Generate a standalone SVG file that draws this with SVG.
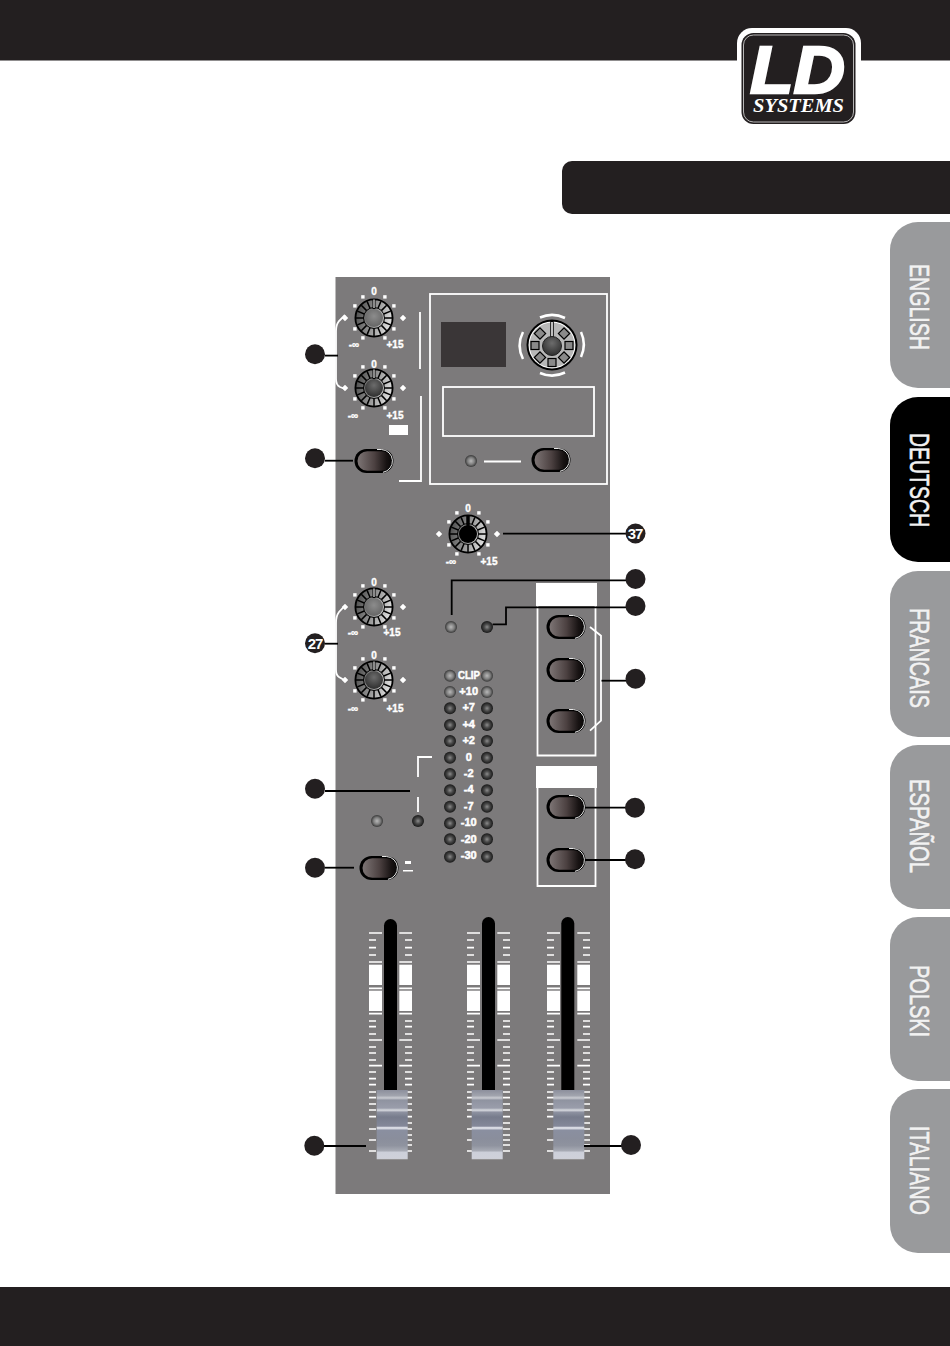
<svg xmlns="http://www.w3.org/2000/svg" xmlns:xlink="http://www.w3.org/1999/xlink" width="950" height="1346" viewBox="0 0 950 1346">
<style>
.tab{font-family:"Liberation Sans Narrow","Liberation Sans",sans-serif;font-size:27px;fill:#f2f2f2;stroke:#f2f2f2;stroke-width:.6}
.k{font-family:"Liberation Sans",sans-serif;font-weight:bold;font-size:10px;fill:#fff;stroke:#fff;stroke-width:.35;text-anchor:middle}
.m{font-family:"Liberation Sans",sans-serif;font-weight:bold;font-size:11px;fill:#fff;stroke:#fff;stroke-width:.5;text-anchor:middle}
.b{font-family:"Liberation Sans",sans-serif;font-weight:bold;font-size:15px;fill:#fff;text-anchor:middle;letter-spacing:-1px}
.wl{fill:none;stroke:#fff;stroke-width:1.8}
.cn{fill:none;stroke:#000;stroke-width:1.8}
.dot{fill:#231f20}
.tick{fill:none;stroke:#fff;stroke-width:1.7}
</style>
<defs>
<linearGradient id="face" x1="0" y1="0" x2="1" y2="0.3"><stop offset="0" stop-color="#3e3e3e"/><stop offset=".55" stop-color="#8f8f8f"/><stop offset="1" stop-color="#d8d8d8"/></linearGradient>
<radialGradient id="hubL" cx=".5" cy=".4" r=".7"><stop offset="0" stop-color="#8c8c8c"/><stop offset="1" stop-color="#5f5f5f"/></radialGradient>
<radialGradient id="hubD" cx=".5" cy=".35" r=".7"><stop offset="0" stop-color="#6c6c6c"/><stop offset="1" stop-color="#2a2a2a"/></radialGradient>
<linearGradient id="btn" x1="0" y1="0" x2="1" y2="0"><stop offset="0" stop-color="#7d7575"/><stop offset=".5" stop-color="#4c4141"/><stop offset=".85" stop-color="#181313"/><stop offset="1" stop-color="#0b0909"/></linearGradient>
<radialGradient id="ledL" cx=".5" cy=".5" r=".52"><stop offset="0" stop-color="#b8b8b8"/><stop offset=".55" stop-color="#7e7e7e"/><stop offset=".85" stop-color="#4a4a4a"/><stop offset="1" stop-color="#333"/></radialGradient>
<radialGradient id="ledD" cx=".5" cy=".5" r=".52"><stop offset="0" stop-color="#8b8b8b"/><stop offset=".45" stop-color="#4a4a4a"/><stop offset="1" stop-color="#141414"/></radialGradient>
<linearGradient id="cap" x1="0" y1="0" x2="0" y2="1">
<stop offset="0" stop-color="#8c8f9c"/><stop offset=".08" stop-color="#a0a3ad"/><stop offset=".115" stop-color="#c9cbd1"/><stop offset=".145" stop-color="#8f93a0"/><stop offset=".26" stop-color="#9a9dab"/><stop offset=".29" stop-color="#d8dbe0"/><stop offset=".32" stop-color="#8d91a0"/><stop offset=".39" stop-color="#777c8c"/><stop offset=".52" stop-color="#848899"/><stop offset=".545" stop-color="#eef0f6"/><stop offset=".58" stop-color="#8a8fa0"/><stop offset=".7" stop-color="#8a8e9c"/><stop offset=".8" stop-color="#8f939f"/><stop offset=".87" stop-color="#a6a9b3"/><stop offset=".9" stop-color="#cdd0da"/><stop offset=".985" stop-color="#cfd1da"/><stop offset="1" stop-color="#aaa"/>
</linearGradient>
<g id="knob">
<circle r="18.6" fill="url(#face)" stroke="#000" stroke-width="1.8"/>
<g stroke="#000" stroke-width="1.5">
<path d="M0-10.500V-18M0 10.500V18M-10.500 0H-18M10.500 0H18M7.400-7.400L12.700-12.700M-7.400-7.400L-12.700-12.700M7.400 7.400L12.700 12.700M-7.400 7.400L-12.700 12.700M4-9.700L6.900-16.600M-4-9.700L-6.900-16.600M4 9.700L6.900 16.600M-4 9.700L-6.900 16.600M9.700-4L16.600-6.900M-9.700-4L-16.600-6.900M9.700 4L16.600 6.900M-9.700 4L-16.600 6.900"/>
</g>
<circle r="10.500" fill="none" stroke="#000" stroke-width="1"/>
<path d="M0-18.500V-9" stroke="#000" stroke-width="3"/>
<path d="M0-18.500V-10" stroke="#fff" stroke-width="1.100"/>
<g fill="#fff">
<rect x="-12.800" y="-22.800" width="3.400" height="3.400"/><rect x="9.200" y="-22.800" width="3.400" height="3.400"/>
<rect x="-20.800" y="-13.800" width="3.400" height="3.400"/><rect x="18.200" y="-13.800" width="3.400" height="3.400"/>
<rect x="-20.800" y="9.200" width="3.400" height="3.400"/><rect x="18.200" y="9.200" width="3.400" height="3.400"/>
<rect x="-12.800" y="18.200" width="3.400" height="3.400"/><rect x="9.200" y="18.200" width="3.400" height="3.400"/>
<path d="M29-3.200L32.200 0L29 3.200L25.800 0ZM-29-3.200L-25.800 0L-29 3.200L-32.200 0Z"/>
</g>
</g>
<g id="button">
<rect x="-19.500" y="-12" width="39" height="24" rx="12" fill="#000"/>
<rect x="-16.500" y="-9.800" width="34" height="19.600" rx="9.800" fill="url(#btn)"/>
<path d="M3-11.500H7.500A11.500 11.500 0 0 1 9 11.300" fill="none" stroke="#fff" stroke-width=".9"/>
</g>
<circle id="ledA" r="6" fill="url(#ledL)"/>
<circle id="ledB" r="6" fill="url(#ledD)"/>
<path id="ticks" class="tick" d="M369 933h13M369 962h13M369 988.300h13M369 1013.700h13M369 1040h13M369 1065.700h13M369 940h7M369 947.700h7M369 955h7M369 1021h7M369 1026.700h7M369 1034h7M369 1047h7M369 1053h7M369 1060h7M369 1072h7M369 1078.700h7M369 1084.700h7M369 1092h7M369 1097.700h7M369 1104h7M369 1110h7M369 1116.700h7M369 1129h7M369 1140h7M369 1151h7M399.300 933h12.700M399.300 962h12.700M399.300 988.300h12.700M399.300 1013.700h12.700M399.300 1040h12.700M399.300 1065.700h12.700M405 940h7M405 947.700h7M405 955h7M405 1021h7M405 1026.700h7M405 1034h7M405 1047h7M405 1053h7M405 1060h7M405 1072h7M405 1078.700h7M405 1084.700h7M405 1092h7M405 1097.700h7M405 1104h7M405 1110h7M405 1116.700h7M405 1123h7M405 1129h7M405 1135h7M405 1140h7M405 1145h7M405 1151h7"/>
<g id="blocks" fill="#fff"><rect x="369" y="964.700" width="13" height="20.300"/><rect x="369" y="990.700" width="13" height="20.300"/><rect x="399.300" y="964.700" width="12.700" height="20.300"/><rect x="399.300" y="990.700" width="12.700" height="20.300"/></g>
</defs>

<rect width="950" height="1346" fill="#fff"/>
<g id="header"><rect x="0" y="0" width="950" height="60.500" fill="#231f20"/></g>
<g id="footer"><rect x="0" y="1287" width="950" height="59" fill="#231f20"/></g>
<g id="logo">
<rect x="737" y="28" width="124" height="97" rx="15" fill="#fff"/>
<rect x="741.500" y="33" width="114" height="91" rx="12" fill="#231f20"/>
<rect x="743.500" y="35" width="110" height="87" rx="10" fill="none" stroke="#ddd" stroke-width=".8"/>
<text x="750" y="93" font-family="Liberation Sans,sans-serif" font-weight="bold" font-style="italic" font-size="67" fill="#fff" stroke="#fff" stroke-width="2.400" textLength="95" lengthAdjust="spacingAndGlyphs">LD</text>
<text x="753" y="112" font-family="Liberation Serif,serif" font-weight="bold" font-style="italic" font-size="19" fill="#fff" textLength="91" lengthAdjust="spacingAndGlyphs">SYSTEMS</text>
</g>
<g id="section-bar"><path d="M950 161H572a10 10 0 0 0-10 10V204a10 10 0 0 0 10 10H950Z" fill="#231f20"/></g>

<g id="tab-english"><path d="M950 222H918a28 28 0 0 0-28 28V360a28 28 0 0 0 28 28H950Z" fill="#999a9c"/><text class="tab" transform="translate(910 264) rotate(90)" textLength="86" lengthAdjust="spacingAndGlyphs">ENGLISH</text></g>
<g id="tab-deutsch"><path d="M950 397H918a28 28 0 0 0-28 28V534a28 28 0 0 0 28 28H950Z" fill="#000"/><text class="tab" transform="translate(910 433) rotate(90)" textLength="94" lengthAdjust="spacingAndGlyphs">DEUTSCH</text></g>
<g id="tab-francais"><path d="M950 571H918a28 28 0 0 0-28 28V709a28 28 0 0 0 28 28H950Z" fill="#999a9c"/><text class="tab" transform="translate(910 608) rotate(90)" textLength="100" lengthAdjust="spacingAndGlyphs">FRANCAIS</text></g>
<g id="tab-espanol"><path d="M950 745H918a28 28 0 0 0-28 28V881a28 28 0 0 0 28 28H950Z" fill="#999a9c"/><text class="tab" transform="translate(910 779) rotate(90)" textLength="94" lengthAdjust="spacingAndGlyphs">ESPAÑOL</text></g>
<g id="tab-polski"><path d="M950 917H918a28 28 0 0 0-28 28V1053a28 28 0 0 0 28 28H950Z" fill="#999a9c"/><text class="tab" transform="translate(910 965) rotate(90)" textLength="72" lengthAdjust="spacingAndGlyphs">POLSKI</text></g>
<g id="tab-italiano"><path d="M950 1089H918a28 28 0 0 0-28 28V1225a28 28 0 0 0 28 28H950Z" fill="#999a9c"/><text class="tab" transform="translate(910 1126) rotate(90)" textLength="89" lengthAdjust="spacingAndGlyphs">ITALIANO</text></g>

<g id="panel"><rect x="335.500" y="277" width="274.500" height="917" fill="#7c7a7b"/></g>

<g id="panel-markings">
<rect class="wl" x="430" y="294" width="177" height="190"/>
<rect x="441" y="322" width="65" height="45" fill="#3a3637"/>
<rect class="wl" x="443" y="387" width="151" height="49"/>
<path class="wl" d="M484 461.500H521"/>
<path class="wl" d="M420 312V369"/>
<path class="wl" d="M421 396V481H399"/>
<rect x="389" y="425" width="19" height="10" fill="#fff"/>
<rect x="536" y="583" width="61" height="23" fill="#fff"/>
<path class="wl" d="M537.500 605V755.500H595.500V605"/>
<rect x="536" y="766" width="61" height="22" fill="#fff"/>
<path class="wl" d="M537.500 787V886H595.500V787"/>
<path class="wl" d="M432 757H418V777M418 797V812"/>
<path class="wl" d="M345 315L339 321Q336 325 336 331V379Q336 385 340 387L345 389"/>
<path class="wl" d="M344 606.700L339 612Q336 616 336 623V670Q336 675 339 677L344 680"/>
<path class="wl" d="M590 627L601 635.700V720.700L590 730.700"/>
<path d="M405 861h6v3h-6zM403 870h10v1.500h-10z" fill="#fff"/>
</g>

<g id="knob-1"><use xlink:href="#knob" x="374" y="318"/><circle cx="374" cy="318" r="9" fill="url(#hubL)"/><text class="k" x="374" y="295">0</text><text class="k" x="354" y="348">-∞</text><text class="k" x="395" y="348">+15</text></g>
<g id="knob-2"><use xlink:href="#knob" x="374" y="388"/><circle cx="374" cy="388" r="9" fill="url(#hubD)"/><text class="k" x="374" y="368">0</text><text class="k" x="353" y="419">-∞</text><text class="k" x="395" y="419">+15</text></g>
<g id="knob-37"><use xlink:href="#knob" x="468" y="534"/><circle cx="468" cy="534" r="9" fill="#000"/><path d="M468 515V526" stroke="#000" stroke-width="3"/><text class="k" x="468" y="512">0</text><text class="k" x="451" y="565">-∞</text><text class="k" x="489" y="565">+15</text></g>
<g id="knob-3"><use xlink:href="#knob" x="374" y="607"/><circle cx="374" cy="607" r="9" fill="url(#hubL)"/><text class="k" x="374" y="586">0</text><text class="k" x="353" y="636">-∞</text><text class="k" x="392" y="636">+15</text></g>
<g id="knob-4"><use xlink:href="#knob" x="374" y="680"/><circle cx="374" cy="680" r="9" fill="url(#hubD)"/><text class="k" x="374" y="659">0</text><text class="k" x="353" y="712">-∞</text><text class="k" x="395" y="712">+15</text></g>

<g id="main-knob">
<g fill="none" stroke="#fff" stroke-width="2.500">
<path d="M540 317.500A30 30 0 0 1 565 318"/><path d="M540 373A30 30 0 0 0 565 372.500"/><path d="M523 332A30 30 0 0 0 523 359"/><path d="M581 332A30 30 0 0 1 581 357"/>
</g>
<circle cx="552" cy="345" r="25.500" fill="#000"/>
<circle cx="552" cy="345" r="23.500" fill="#fff"/>
<circle cx="552" cy="345" r="22.500" fill="#b8b8b8"/>
<g fill="#8a8a8a" stroke="#000" stroke-width="1.200">
<rect x="-4" y="-21" width="8" height="8" transform="translate(552 345.500) rotate(45)"/>
<rect x="-4" y="-21" width="8" height="8" transform="translate(552 345.500) rotate(90)"/>
<rect x="-4" y="-21" width="8" height="8" transform="translate(552 345.500) rotate(135)"/>
<rect x="-4" y="-21" width="8" height="8" transform="translate(552 345.500) rotate(180)"/>
<rect x="-4" y="-21" width="8" height="8" transform="translate(552 345.500) rotate(225)"/>
<rect x="-4" y="-21" width="8" height="8" transform="translate(552 345.500) rotate(270)"/>
<rect x="-4" y="-21" width="8" height="8" transform="translate(552 345.500) rotate(315)"/>
</g>
<path d="M552 321V340" stroke="#000" stroke-width="3.500"/><path d="M552 322V340" stroke="#fff" stroke-width="1.500"/>
<circle cx="552" cy="346" r="9.500" fill="url(#hubD)" stroke="#222"/>
</g>

<g id="button-1"><use xlink:href="#button" x="374" y="461"/></g>
<g id="button-2"><use xlink:href="#button" x="551" y="460"/></g>
<g id="button-3"><use xlink:href="#button" x="566" y="627"/></g>
<g id="button-4"><use xlink:href="#button" x="566" y="670"/></g>
<g id="button-5"><use xlink:href="#button" x="566" y="721"/></g>
<g id="button-6"><use xlink:href="#button" x="566" y="807"/></g>
<g id="button-7"><use xlink:href="#button" x="566" y="860"/></g>
<g id="button-8"><use xlink:href="#button" x="379" y="868"/></g>

<g id="leds">
<use xlink:href="#ledA" x="471" y="461"/><use xlink:href="#ledA" x="451" y="627"/><use xlink:href="#ledB" x="487" y="627"/><use xlink:href="#ledA" x="377" y="821"/><use xlink:href="#ledB" x="418" y="821"/>
</g>
<g id="meter">
<use xlink:href="#ledA" x="450" y="675.700"/><use xlink:href="#ledA" x="487" y="675.700"/>
<use xlink:href="#ledA" x="450" y="692"/><use xlink:href="#ledA" x="487" y="692"/>
<use xlink:href="#ledB" x="450" y="708.300"/><use xlink:href="#ledB" x="487" y="708.300"/>
<use xlink:href="#ledB" x="450" y="725"/><use xlink:href="#ledB" x="487" y="725"/>
<use xlink:href="#ledB" x="450" y="741"/><use xlink:href="#ledB" x="487" y="741"/>
<use xlink:href="#ledB" x="450" y="757.700"/><use xlink:href="#ledB" x="487" y="757.700"/>
<use xlink:href="#ledB" x="450" y="774"/><use xlink:href="#ledB" x="487" y="774"/>
<use xlink:href="#ledB" x="450" y="790.300"/><use xlink:href="#ledB" x="487" y="790.300"/>
<use xlink:href="#ledB" x="450" y="806.700"/><use xlink:href="#ledB" x="487" y="806.700"/>
<use xlink:href="#ledB" x="450" y="823.300"/><use xlink:href="#ledB" x="487" y="823.300"/>
<use xlink:href="#ledB" x="450" y="839.300"/><use xlink:href="#ledB" x="487" y="839.300"/>
<use xlink:href="#ledB" x="450" y="856.700"/><use xlink:href="#ledB" x="487" y="856.700"/>
<text class="m" x="469" y="679" textLength="22" lengthAdjust="spacingAndGlyphs">CLIP</text><text class="m" x="468.700" y="695">+10</text><text class="m" x="468.700" y="711">+7</text><text class="m" x="468.700" y="728">+4</text><text class="m" x="468.700" y="744">+2</text><text class="m" x="468.700" y="760.500">0</text><text class="m" x="468.700" y="777">-2</text><text class="m" x="468.700" y="793">-4</text><text class="m" x="468.700" y="810">-7</text><text class="m" x="468.700" y="826">-10</text><text class="m" x="468.700" y="842.500">-20</text><text class="m" x="468.700" y="859">-30</text>
</g>

<g id="fader-1"><use xlink:href="#ticks"/><use xlink:href="#blocks"/><rect x="384" y="919" width="13" height="180" rx="6.500" fill="#000"/><rect x="376.700" y="1090" width="31" height="69.500" fill="url(#cap)"/></g>
<g id="fader-2"><use xlink:href="#ticks" x="98"/><use xlink:href="#blocks" x="98"/><rect x="482" y="917" width="13" height="182" rx="6.500" fill="#000"/><rect x="471.700" y="1090" width="31" height="69.500" fill="url(#cap)"/></g>
<g id="fader-3"><use xlink:href="#ticks" x="178"/><use xlink:href="#blocks" x="178"/><rect x="561.300" y="917" width="13" height="182" rx="6.500" fill="#000"/><rect x="553.300" y="1090" width="31" height="69.500" fill="url(#cap)"/></g>

<g id="connectors">
<path class="cn" d="M325 355.600H338"/>
<path class="cn" d="M325 460.700H353"/>
<path class="cn" d="M503 533.700H626"/>
<path class="cn" d="M451.700 615V580.300H626"/>
<path class="cn" d="M492.600 624.300H506V607.300H626"/>
<path class="cn" d="M601.500 680.700H626"/>
<path class="cn" d="M325 643.700H338"/>
<path class="cn" d="M325 791H410"/>
<path class="cn" d="M325 867.700H354"/>
<path class="cn" d="M585 807.700H626"/>
<path class="cn" d="M585 860H626"/>
<path class="cn" d="M324 1146H366"/>
<path class="cn" d="M584 1146H622"/>
</g>

<g id="badge-a"><circle class="dot" cx="315" cy="354.300" r="10"/></g>
<g id="badge-b"><circle class="dot" cx="315" cy="458.300" r="10"/></g>
<g id="badge-37"><circle class="dot" cx="635.500" cy="533.500" r="10"/><text class="b" x="635" y="539">37</text></g>
<g id="badge-c"><circle class="dot" cx="635.500" cy="579" r="10"/></g>
<g id="badge-d"><circle class="dot" cx="635.500" cy="606" r="10"/></g>
<g id="badge-e"><circle class="dot" cx="635.500" cy="678.700" r="10"/></g>
<g id="badge-27"><circle class="dot" cx="315" cy="643.300" r="10"/><text class="b" x="315" y="649">27</text></g>
<g id="badge-f"><circle class="dot" cx="315" cy="788.700" r="10"/></g>
<g id="badge-g"><circle class="dot" cx="315" cy="867.700" r="10"/></g>
<g id="badge-h"><circle class="dot" cx="635" cy="807.700" r="10"/></g>
<g id="badge-i"><circle class="dot" cx="635" cy="859.300" r="10"/></g>
<g id="badge-j"><circle class="dot" cx="314.300" cy="1145.700" r="10"/></g>
<g id="badge-k"><circle class="dot" cx="631" cy="1145" r="10"/></g>
</svg>
